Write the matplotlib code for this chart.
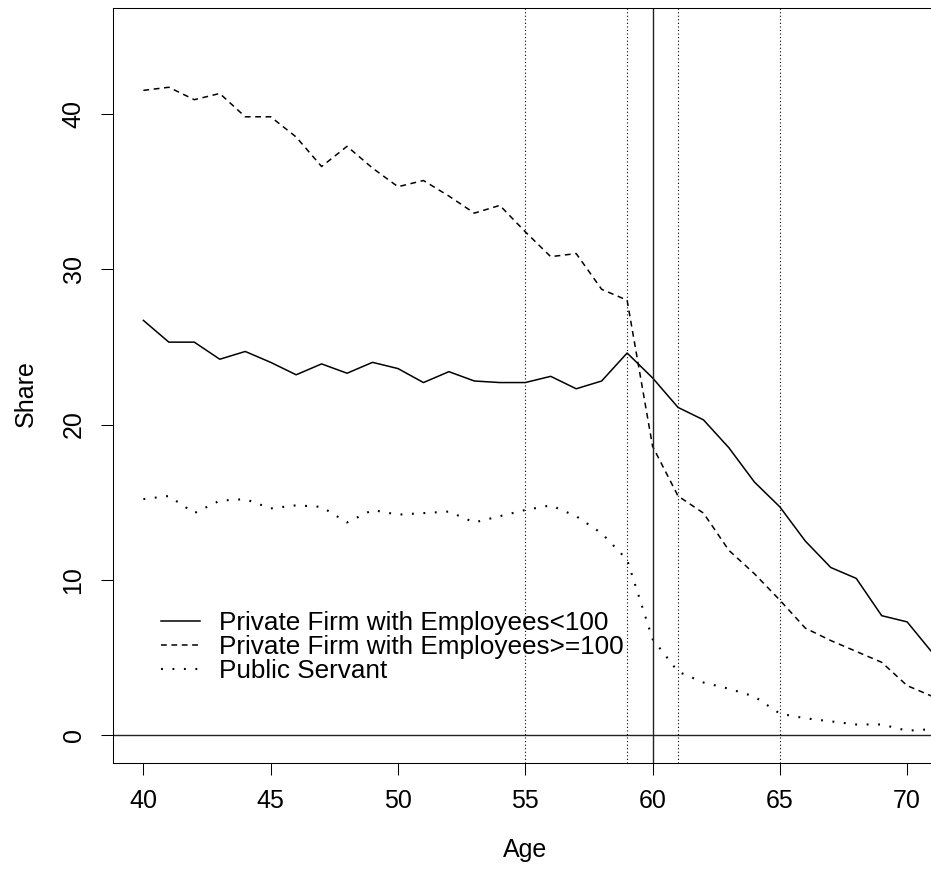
# share by employer type across age (R-style base plot)
import matplotlib
matplotlib.use("Agg")
import matplotlib.pyplot as plt

plt.rcParams['font.family'] = ['Liberation Sans', 'DejaVu Sans']

age = list(range(40, 72))
small_firm = [26.7, 25.3, 25.3, 24.2, 24.7, 24.0, 23.2, 23.9, 23.3, 24.0,
              23.6, 22.7, 23.4, 22.8, 22.7, 22.7, 23.1, 22.3, 22.8, 24.6,
              23.0, 21.1, 20.3, 18.5, 16.3, 14.7, 12.5, 10.8, 10.1, 7.7,
              7.3, 5.3]
large_firm = [41.5, 41.7, 40.9, 41.3, 39.8, 39.8, 38.5, 36.6, 37.9, 36.5,
              35.3, 35.7, 34.7, 33.6, 34.1, 32.4, 30.8, 31.0, 28.7, 28.0,
              18.6, 15.4, 14.3, 11.9, 10.4, 8.7, 6.9, 6.1, 5.4, 4.7,
              3.2, 2.5]
public = [15.2, 15.4, 14.3, 15.1, 15.2, 14.6, 14.8, 14.7, 13.7, 14.5,
          14.2, 14.3, 14.4, 13.7, 14.1, 14.5, 14.8, 14.1, 13.0, 11.3,
          6.2, 4.1, 3.4, 3.0, 2.5, 1.4, 1.1, 0.9, 0.7, 0.7,
          0.3, 0.4]
labels = ['Private Firm with Employees<100',
          'Private Firm with Employees>=100',
          'Public Servant']
dotted_ages = [55, 59, 61, 65]
cutoff = 60

fig = plt.figure(figsize=(9.31, 8.69), dpi=100)
# right edge of the plot box sits just past the picture edge
ax = fig.add_axes([0.1212, 0.1216, 0.886, 0.8692])

lw = 1.1
ax.plot(age, small_firm, color='black', lw=lw, label=labels[0])
ax.plot(age, large_firm, color='black', lw=lw, dashes=(3.8, 3.0), label=labels[1])
ax.plot(age, public, color='black', lw=1.5, dashes=(0.9, 4.6), label=labels[2])

for a in dotted_ages:
    ax.axvline(a, color='black', lw=0.8, dashes=(1.0, 2.2))
ax.axvline(cutoff, color='#222222', lw=1.0)
ax.axhline(0, color='#222222', lw=1.0)

ax.set_xlim(38.8, 71.2)
ax.set_ylim(-1.8, 46.8)
ax.set_xticks(range(40, 71, 5))
ax.set_yticks(range(0, 41, 10))
ax.tick_params(direction='out', length=8.6, width=0.75, labelsize=18, pad=10)
ax.tick_params(axis='y', pad=11)
plt.setp(ax.get_yticklabels(), rotation=90, va='center')
for s in ax.spines.values():
    s.set_linewidth(0.75)

ax.set_xlabel('Age', fontsize=18)
ax.set_ylabel('Share', fontsize=18)
ax.xaxis.set_label_coords(0.5, -0.099)
ax.yaxis.set_label_coords(-0.0905, 0.49)

ax.legend(loc='upper left', bbox_to_anchor=(0.0584, 0.2016), frameon=False,
          fontsize=18.8, borderpad=0, borderaxespad=0, handlelength=1.48,
          handletextpad=0.74, labelspacing=0.0)

fig.savefig('out.png', dpi=100)
